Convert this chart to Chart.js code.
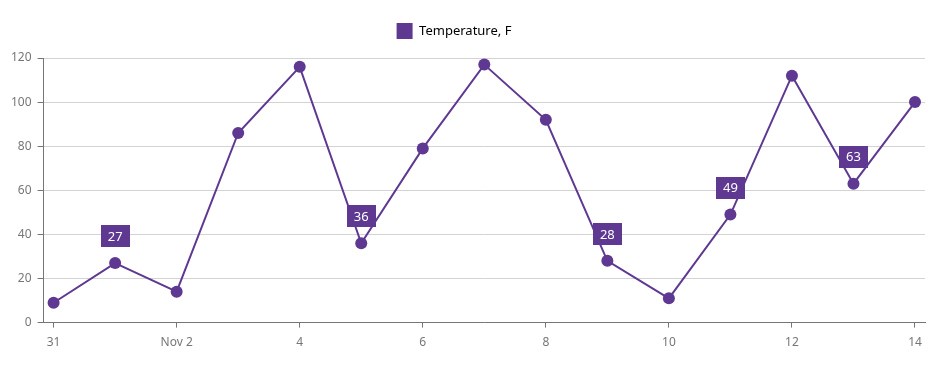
<!DOCTYPE html>
<html>
<head>
<meta charset="utf-8">
<script src="https://cdn.jsdelivr.net/npm/chart.js@4/dist/chart.umd.min.js"></script>
<style>
  html, body { margin: 0; padding: 0; background: #fff; }
  #wrap { width: 940px; height: 369px; position: relative; }
</style>
</head>
<body>
<div id="wrap"><canvas id="c" width="940" height="369"></canvas></div>
<script>
// ---- data ----
const categories = ['Oct 31','Nov 1','Nov 2','Nov 3','Nov 4','Nov 5','Nov 6','Nov 7','Nov 8','Nov 9','Nov 10','Nov 11','Nov 12','Nov 13','Nov 14'];
const temperatures = [9, 27, 14, 86, 116, 36, 79, 117, 92, 28, 11, 49, 112, 63, 100];
const labeledPoints = [1, 5, 9, 11, 13];
const xTickIndices = [0, 2, 4, 6, 8, 10, 12, 14];
const xTickLabels = ['31', 'Nov 2', '4', '6', '8', '10', '12', '14'];
const yTicks = [0, 20, 40, 60, 80, 100, 120];
const seriesName = 'Temperature, F';

const PURPLE = '#5e3891';
const GREY = '#767676';
const FONT = 'Noto Sans, sans-serif';

const pointLabelPlugin = {
  id: 'pointLabels',
  afterDatasetsDraw(chart) {
    const ctx = chart.ctx;
    const xs = chart.scales.x, ys = chart.scales.y;
    ctx.save();
    ctx.font = '13px ' + FONT;
    ctx.textAlign = 'center';
    ctx.textBaseline = 'middle';
    labeledPoints.forEach(i => {
      const px = xs.getPixelForValue(i);
      const py = ys.getPixelForValue(temperatures[i]);
      const txt = String(temperatures[i]);
      const w = ctx.measureText(txt).width + 14;
      const h = 22;
      const bottom = py - 16;
      ctx.fillStyle = PURPLE;
      ctx.fillRect(Math.round(px - w / 2), Math.round(bottom - h), Math.round(w), h);
      ctx.fillStyle = '#ffffff';
      ctx.fillText(txt, px, bottom - h / 2 + 1);
    });
    ctx.restore();
  }
};

const legendShift = {
  id: 'legendShift',
  afterLayout(chart) {
    if (chart.legend) { chart.legend.left -= 11; chart.legend.right -= 11; }
  }
};

new Chart(document.getElementById('c'), {
  type: 'line',
  data: {
    datasets: [{
      label: seriesName,
      data: temperatures.map((v, i) => ({ x: i, y: v })),
      borderColor: PURPLE,
      backgroundColor: PURPLE,
      borderWidth: 2,
      pointRadius: 6,
      pointHoverRadius: 6,
      pointBackgroundColor: PURPLE,
      pointBorderWidth: 0,
      tension: 0
    }]
  },
  options: {
    responsive: false,
    animation: false,
    devicePixelRatio: 1,
    layout: { padding: { top: 5, right: 15, bottom: 11, left: 5 } },
    plugins: {
      tooltip: { enabled: false },
      subtitle: {
        display: true,
        text: ' ',
        position: 'top',
        padding: 0,
        font: { size: 9, lineHeight: 1 }
      },
      legend: {
        position: 'top',
        weight: 3000,
        labels: {
          boxWidth: 16,
          boxHeight: 16,
          padding: 18,
          color: '#232323',
          font: { family: FONT, size: 13 },
          generateLabels(chart) {
            return [{ text: seriesName, fillStyle: PURPLE, strokeStyle: PURPLE, lineWidth: 0, datasetIndex: 0 }];
          }
        }
      }
    },
    scales: {
      x: {
        type: 'linear',
        min: -0.1626,
        max: 14.1626,
        afterBuildTicks(scale) { scale.ticks = xTickIndices.map(v => ({ value: v })); },
        ticks: {
          autoSkip: false,
          maxRotation: 0,
          color: GREY,
          font: { family: FONT, size: 12 },
          padding: 8,
          callback(value) { const k = xTickIndices.indexOf(value); return k >= 0 ? xTickLabels[k] : ''; }
        },
        grid: { drawOnChartArea: false, tickLength: 5, tickColor: GREY, tickWidth: 1 },
        border: { color: GREY, width: 1 }
      },
      y: {
        min: 0,
        max: 120,
        afterBuildTicks(scale) { scale.ticks = yTicks.map(v => ({ value: v })); },
        ticks: {
          color: GREY,
          font: { family: FONT, size: 12 },
          padding: 6
        },
        grid: { color: '#d3d3d3', tickLength: 6, tickColor: GREY, lineWidth: 1 },
        border: { color: GREY, width: 1 }
      }
    }
  },
  plugins: [pointLabelPlugin, legendShift]
});
</script>
</body>
</html>
